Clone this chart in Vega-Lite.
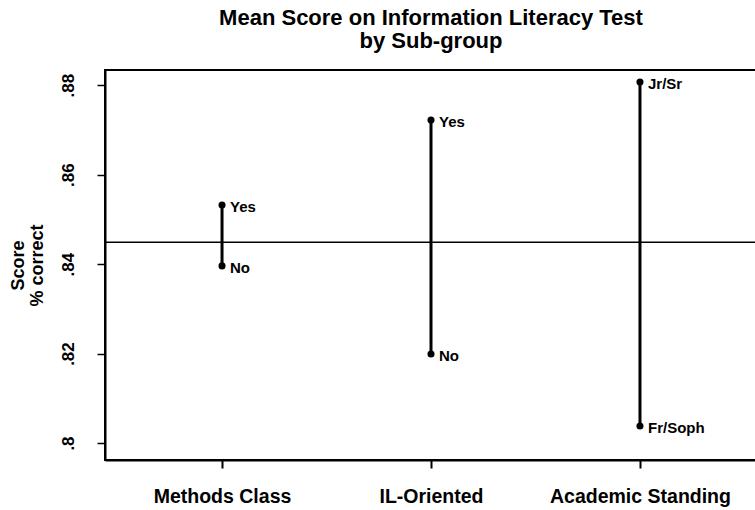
{
  "$schema": "https://vega.github.io/schema/vega-lite/v6.json",
  "width": 652,
  "height": 390,
  "autosize": {"type": "none"},
  "padding": {"left": 105, "top": 70, "right": 0, "bottom": 50},
  "background": "white",
  "config": {
    "font": "Liberation Sans",
    "view": {"stroke": "black", "strokeWidth": 2}
  },
  "title": {
    "text": ["Mean Score on Information Literacy Test", "by Sub-group"],
    "fontSize": 22,
    "fontWeight": "bold",
    "lineHeight": 23,
    "anchor": "middle",
    "frame": "group",
    "offset": 17,
    "color": "black"
  },
  "data": {
    "values": [
      {"group": "Methods Class", "label": "Yes", "score": 0.8532},
      {"group": "Methods Class", "label": "No", "score": 0.8396},
      {"group": "IL-Oriented", "label": "Yes", "score": 0.8722},
      {"group": "IL-Oriented", "label": "No", "score": 0.8199},
      {"group": "Academic Standing", "label": "Jr/Sr", "score": 0.8807},
      {"group": "Academic Standing", "label": "Fr/Soph", "score": 0.8038}
    ]
  },
  "encoding": {
    "x": {
      "field": "group",
      "type": "nominal",
      "sort": ["Methods Class", "IL-Oriented", "Academic Standing"],
      "scale": {"type": "point", "padding": 0.56},
      "axis": {
        "title": null,
        "labelAngle": 0,
        "labelFontSize": 19.5,
        "labelFontWeight": "bold",
        "labelColor": "black",
        "labelPadding": 19,
        "labelLimit": 400,
        "labelOverlap": false,
        "tickSize": 8,
        "tickWidth": 2,
        "tickColor": "black",
        "domainColor": "black",
        "domainWidth": 2,
        "grid": false
      }
    },
    "y": {
      "field": "score",
      "type": "quantitative",
      "scale": {"domain": [0.7962, 0.8834], "nice": false, "zero": false},
      "axis": {
        "values": [0.8, 0.82, 0.84, 0.86, 0.88],
        "labelExpr": "substring(format(datum.value, '.2~f'), 1)",
        "labelAngle": -90,
        "labelAlign": "center",
        "labelBaseline": "bottom",
        "labelFontSize": 17,
        "labelFontWeight": "bold",
        "labelColor": "black",
        "labelPadding": 20,
        "tickSize": 8,
        "tickWidth": 1.5,
        "tickColor": "black",
        "domainColor": "black",
        "domainWidth": 2,
        "grid": false,
        "title": ["Score", "% correct"],
        "titleFontSize": 18,
        "titleFontWeight": "bold",
        "titleColor": "black",
        "titlePadding": 13,
        "titleLineHeight": 19
      }
    }
  },
  "layer": [
    {
      "mark": {"type": "rule", "color": "black", "strokeWidth": 3},
      "encoding": {
        "y": {"aggregate": "min", "field": "score", "type": "quantitative"},
        "y2": {"aggregate": "max", "field": "score"}
      }
    },
    {
      "mark": {"type": "point", "filled": true, "color": "black", "size": 50, "opacity": 1}
    },
    {
      "mark": {"type": "text", "align": "left", "baseline": "middle", "dx": 8, "dy": 2, "fontSize": 15, "fontWeight": "bold", "color": "black"},
      "encoding": {"text": {"field": "label"}}
    },
    {
      "data": {"values": [{"overall": 0.8449}]},
      "mark": {"type": "rule", "color": "black", "strokeWidth": 1.5},
      "encoding": {
        "x": null,
        "y": {"field": "overall", "type": "quantitative"}
      }
    }
  ]
}
